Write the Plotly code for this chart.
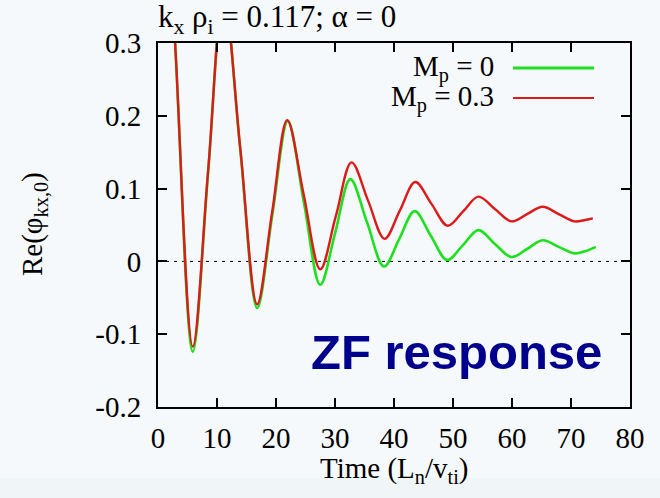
import plotly.graph_objects as go

# Zonal-flow response Re(phi_kx,0) versus time for two Mach numbers
t_mp0 = [0.0, 2.9, 5.9, 8.5, 11.1, 13.95, 16.8, 19.4, 22.0, 24.75, 27.5, 30.05,
         32.6, 35.45, 38.3, 40.9, 43.5, 46.25, 49.0, 51.65, 54.3, 57.1, 59.9,
         62.55, 65.2, 67.9, 70.6, 72.4, 74.2]
v_mp0 = [0.72, 0.30, -0.124, 0.123, 0.37, 0.153, -0.064, 0.065, 0.193, 0.08,
         -0.032, 0.04, 0.113, 0.053, -0.007, 0.031, 0.069, 0.035, 0.002, 0.022,
         0.043, 0.024, 0.006, 0.017, 0.029, 0.02, 0.011, 0.014, 0.020]

t_mp03 = [0.0, 2.9, 5.9, 8.5, 11.1, 13.95, 16.8, 19.35, 21.9, 24.7, 27.5, 30.15,
          32.8, 35.6, 38.4, 41.0, 43.6, 46.35, 49.1, 51.75, 54.3, 57.1, 59.9,
          62.55, 65.2, 67.9, 70.6, 72.2, 73.7]
v_mp03 = [0.72, 0.30, -0.117, 0.125, 0.37, 0.155, -0.059, 0.068, 0.194, 0.0915,
          -0.011, 0.0625, 0.136, 0.0835, 0.031, 0.07, 0.109, 0.079, 0.049, 0.069,
          0.089, 0.072, 0.055, 0.065, 0.075, 0.065, 0.055, 0.0565, 0.059]

x_ticks = [0, 10, 20, 30, 40, 50, 60, 70, 80]
y_ticks = [-0.2, -0.1, 0, 0.1, 0.2, 0.3]
y_tick_text = ["-0.2", "-0.1", "0", "0.1", "0.2", "0.3"]

series_names = ["M<sub>p</sub> = 0", "M<sub>p</sub> = 0.3"]
series_colors = ["#1ee01e", "#dc1a1a"]

SERIF = "Liberation Serif, Times New Roman, serif"
FS = 29
BG = "#f5f9fb"

W, H = 660, 498
L, R, T, B = 158, 30, 43, 91
PW, PH = W - L - R, H - T - B


def px(x):
    return (x - L) / PW


def py(y):
    return (H - B - y) / PH


fig = go.Figure()

# zero reference
fig.add_trace(go.Scatter(x=[0, 80], y=[0, 0], mode="lines",
                         line=dict(color="black", width=1, dash="3px,5px"),
                         hoverinfo="skip", showlegend=False))

fig.add_trace(go.Scatter(x=t_mp0, y=v_mp0, mode="lines", name=series_names[0],
                         line=dict(color=series_colors[0], width=2.6,
                                   shape="spline", smoothing=1.0),
                         showlegend=False))
fig.add_trace(go.Scatter(x=t_mp03, y=v_mp03, mode="lines", name=series_names[1],
                         line=dict(color=series_colors[1], width=2.4,
                                   shape="spline", smoothing=1.0),
                         showlegend=False))

axis_common = dict(showline=True, linecolor="black", linewidth=2,
                   mirror="ticks", ticks="inside", ticklen=9, tickwidth=1.5,
                   tickcolor="black", showgrid=False, zeroline=False,
                   tickfont=dict(family=SERIF, size=FS, color="black"))

fig.update_xaxes(range=[0, 80], tickvals=x_ticks, ticktext=[str(v) for v in x_ticks],
                 ticklabelstandoff=4, **axis_common)
fig.update_yaxes(range=[-0.2, 0.3], tickvals=y_ticks, ticktext=y_tick_text,
                 ticklabelstandoff=9, **axis_common)

annotations = [
    dict(text="k<sub>x</sub> \u03c1<sub>i</sub> = 0.117; \u03b1 = 0",
         xref="paper", yref="paper", x=px(156), y=py(19),
         xanchor="left", yanchor="middle", showarrow=False,
         font=dict(family=SERIF, size=31, color="black")),
    dict(text="Time (L<sub>n</sub>/v<sub>ti</sub>)",
         xref="paper", yref="paper", x=px(394), y=py(470),
         xanchor="center", yanchor="middle", showarrow=False,
         font=dict(family=SERIF, size=FS, color="black")),
    dict(text="Re(\u03c6<sub>kx,0</sub>)", textangle=-90,
         xref="paper", yref="paper", x=px(34), y=py(224),
         xanchor="center", yanchor="middle", showarrow=False,
         font=dict(family=SERIF, size=FS, color="black")),
    dict(text="<b>ZF response</b>", xref="paper", yref="paper",
         x=px(456), y=py(352), xanchor="center", yanchor="middle",
         showarrow=False,
         font=dict(family="Liberation Sans, Arial, sans-serif", size=49,
                   color="#00008c")),
]

shapes = [
    dict(type="rect", xref="paper", yref="paper", x0=px(0), x1=px(W),
         y0=py(H), y1=py(478), fillcolor="#f0f5f8", line=dict(width=0),
         layer="below"),
]

# key: label on the left, sample line on the right
key_rows = [68, 98]
key_widths = [3, 1.8]
for name, color, yr, lw in zip(series_names, series_colors, key_rows, key_widths):
    annotations.append(dict(text=name, xref="paper", yref="paper",
                            x=px(496), y=py(yr), xanchor="right",
                            yanchor="middle", showarrow=False,
                            font=dict(family=SERIF, size=FS, color="black")))
    shapes.append(dict(type="line", xref="paper", yref="paper",
                       x0=px(513), x1=px(594), y0=py(yr), y1=py(yr),
                       line=dict(color=color, width=lw)))

fig.update_layout(width=W, height=H,
                  margin=dict(l=L, r=R, t=T, b=B, pad=0),
                  paper_bgcolor=BG, plot_bgcolor=BG,
                  annotations=annotations, shapes=shapes,
                  showlegend=False)

fig.write_html("out.html")
